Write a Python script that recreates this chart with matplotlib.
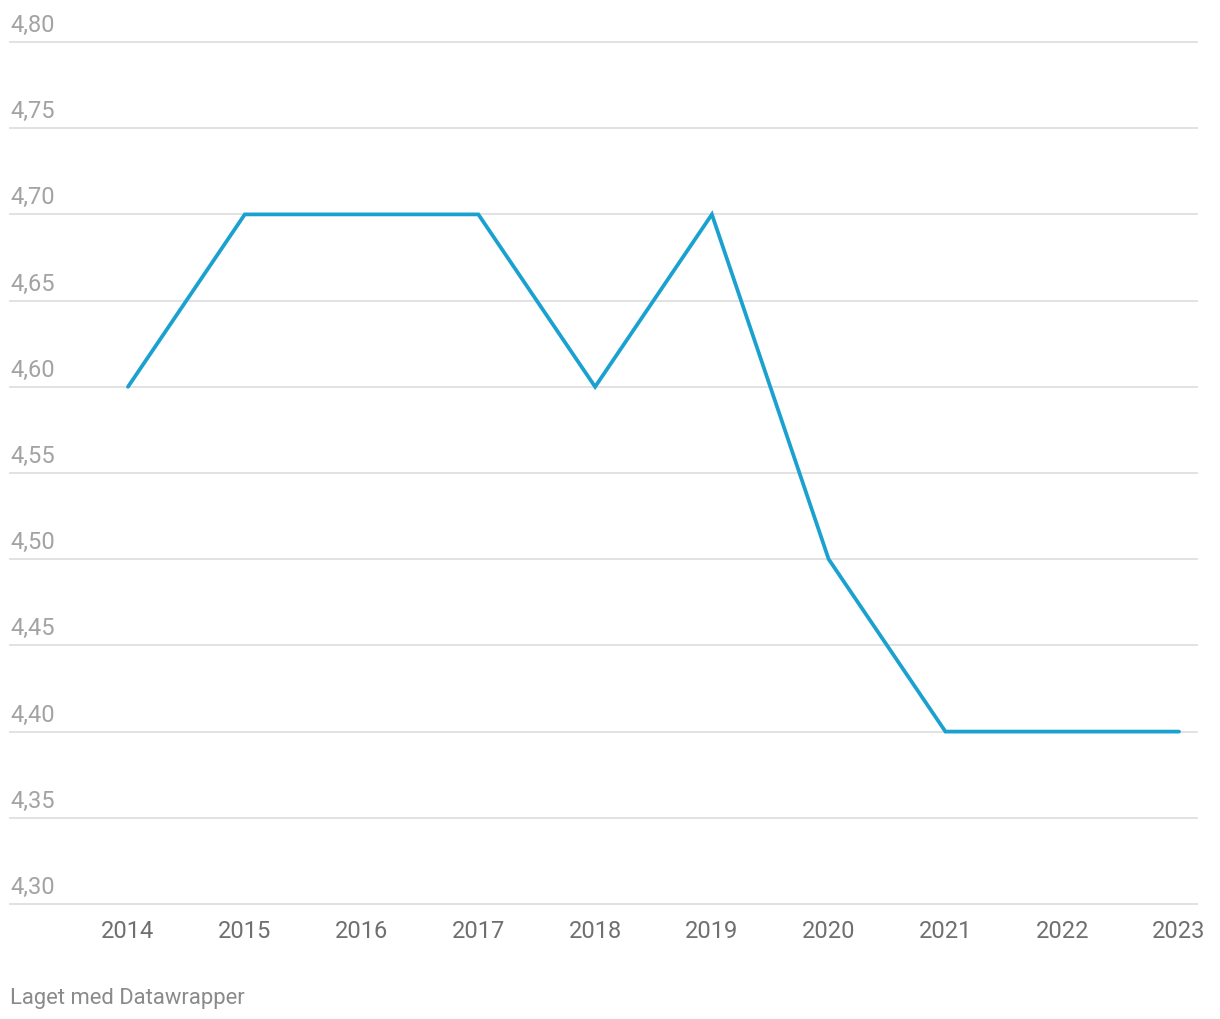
import matplotlib
matplotlib.use("Agg")
import matplotlib.pyplot as plt

# ---------------------------------------------------------------------------
# Data
# ---------------------------------------------------------------------------
years = [2014, 2015, 2016, 2017, 2018, 2019, 2020, 2021, 2022, 2023]
values = [4.60, 4.70, 4.70, 4.70, 4.60, 4.70, 4.50, 4.40, 4.40, 4.40]
y_ticks = [4.30, 4.35, 4.40, 4.45, 4.50, 4.55, 4.60, 4.65, 4.70, 4.75, 4.80]
credit = "Laget med Datawrapper"

# ---------------------------------------------------------------------------
# Style
# ---------------------------------------------------------------------------
LINE_COLOR = "#1aa1cf"
GRID_COLOR = "#e2e2e2"
YLABEL_COLOR = "#a3a3a3"
XLABEL_COLOR = "#6f6f6f"
CREDIT_COLOR = "#8a8a8a"

plt.rcParams.update({
    "font.family": ["Roboto", "DejaVu Sans"],
    "font.size": 17,
})

W, H = 1220, 1020
fig = plt.figure(figsize=(W / 100, H / 100), dpi=100)
left, right, top, bottom = 10, 1197, 43, 905
ax = fig.add_axes([left / W, 1 - bottom / H, (right - left) / W, (bottom - top) / H])

ax.plot(years, values, color=LINE_COLOR, lw=2.7, solid_capstyle="round",
        solid_joinstyle="miter", zorder=3)

ax.set_ylim(y_ticks[0], y_ticks[-1])
step = (1179 - 128) / 9
ax.set_xlim(2014 - (128 - left) / step, 2023 + (right - 1179) / step)

for v in y_ticks:
    ax.axhline(v, color=GRID_COLOR, lw=1.4, zorder=1, clip_on=False)
    ax.annotate(f"{v:.2f}".replace(".", ","), xy=(0, v),
                xycoords=("axes fraction", "data"),
                xytext=(0, 6), textcoords="offset pixels",
                ha="left", va="bottom", color=YLABEL_COLOR, fontsize=17)

ax.set_yticks([])
ax.set_xticks(years)
ax.set_xticklabels([str(y) for y in years], color=XLABEL_COLOR, fontsize=17)
ax.tick_params(axis="x", length=0, pad=11)
for s in ax.spines.values():
    s.set_visible(False)

fig.text(left / W, 1 - 1004 / H, credit, color=CREDIT_COLOR, fontsize=15.8,
         ha="left", va="baseline")

fig.savefig("out.png", dpi=100)
